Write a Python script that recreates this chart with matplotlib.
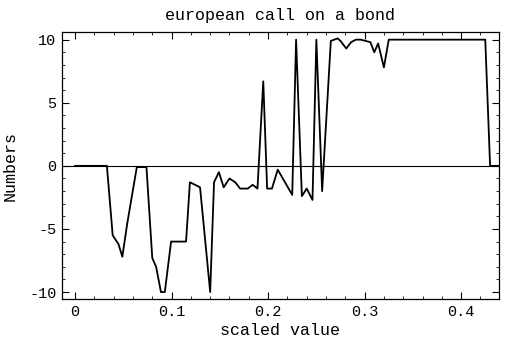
import numpy as np
import matplotlib
matplotlib.use('Agg')
from matplotlib import pyplot as plt
from matplotlib.ticker import MultipleLocator

plt.rcParams['font.family'] = ['Liberation Mono', 'DejaVu Sans Mono']
plt.rcParams['axes.unicode_minus'] = False

# curve
scaled = [0.0, 0.033, 0.039, 0.045, 0.049, 0.054, 0.064, 0.074, 0.080, 0.084,
          0.089, 0.093, 0.0995, 0.115, 0.119, 0.1295, 0.140, 0.144, 0.149, 0.154,
          0.160, 0.166, 0.171, 0.179, 0.184, 0.189, 0.195, 0.199, 0.204, 0.210,
          0.225, 0.229, 0.235, 0.240, 0.246, 0.250, 0.256, 0.265, 0.272, 0.275,
          0.281, 0.286, 0.291, 0.296, 0.301, 0.306, 0.310, 0.314, 0.320, 0.325,
          0.425, 0.430, 0.440]
numbers = [0.0, 0.0, -5.5, -6.2, -7.2, -4.6, -0.1, -0.1, -7.3, -8.0,
           -10.0, -10.0, -6.0, -6.0, -1.3, -1.7, -10.0, -1.3, -0.5, -1.7,
           -1.0, -1.3, -1.8, -1.8, -1.5, -1.8, 6.7, -1.8, -1.8, -0.3,
           -2.3, 10.0, -2.4, -1.8, -2.7, 10.0, -2.0, 9.9, 10.1, 9.9,
           9.3, 9.8, 10.0, 10.0, 9.9, 9.8, 9.0, 9.7, 7.8, 10.0,
           10.0, 0.0, 0.0]

xticks = [0, 0.1, 0.2, 0.3, 0.4]
xticklabels = ['0', '0.1', '0.2', '0.3', '0.4']
yticks = [-10, -5, 0, 5, 10]
yticklabels = ['-10', '-5', '0', '5', '10']

fig = plt.figure(figsize=(5.1, 3.45), dpi=100)
ax = fig.add_axes([0.1216, 0.1333, 0.8564, 0.7737])

ax.axhline(0, color='black', lw=0.8)
ax.plot(scaled, numbers, color='black', lw=1.3)

ax.set_xlim(-0.0135, 0.439)
ax.set_ylim(-10.55, 10.6)

ax.set_xticks(xticks)
ax.set_xticklabels(xticklabels)
ax.set_yticks(yticks)
ax.set_yticklabels(yticklabels)
ax.xaxis.set_minor_locator(MultipleLocator(0.02))
ax.yaxis.set_minor_locator(MultipleLocator(1))
ax.tick_params(which='both', direction='in', top=True, right=True, labelsize=11, pad=4)
ax.tick_params(which='major', length=5, width=0.8)
ax.tick_params(which='minor', length=2.5, width=0.6)
for s in ax.spines.values():
    s.set_linewidth(0.9)

ax.set_title('european call on a bond', fontsize=12, pad=9)
ax.set_xlabel('scaled value', fontsize=12, labelpad=3)
ax.set_ylabel('Numbers', fontsize=12, labelpad=8)

fig.savefig('out.png', dpi=100)
